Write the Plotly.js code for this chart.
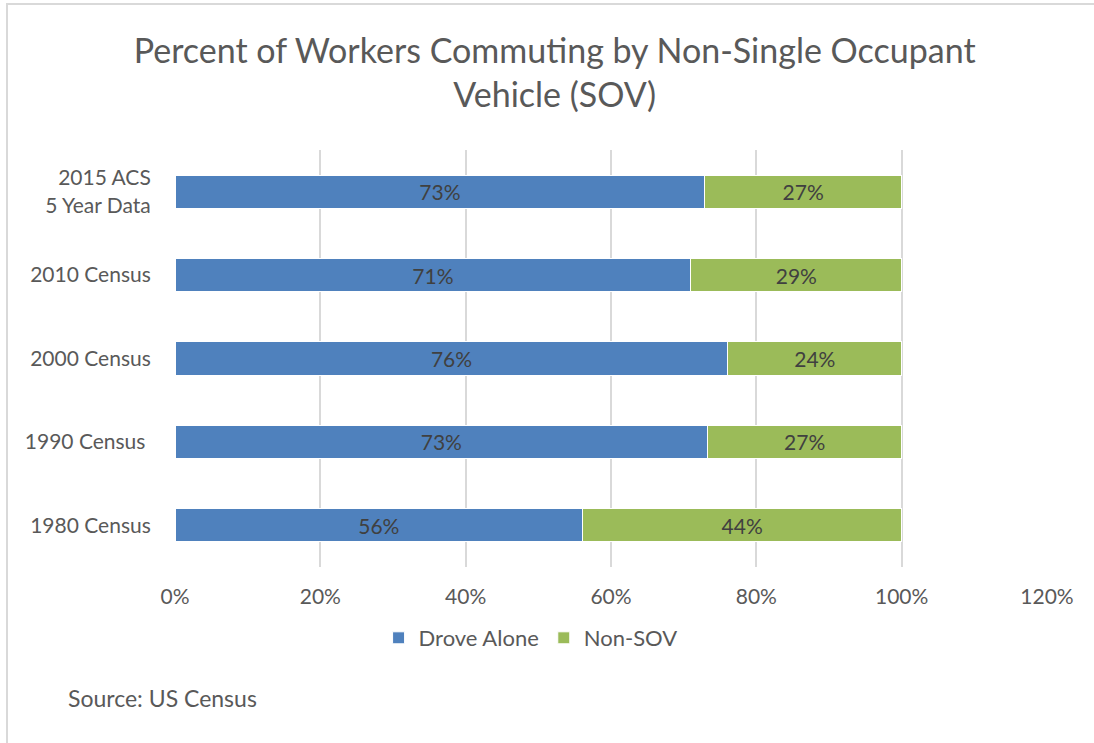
<!DOCTYPE html>
<html>
<head>
<meta charset="utf-8">
<script src="https://cdn.plot.ly/plotly-3.0.1.min.js"></script>
<style>
  html, body { margin: 0; padding: 0; background: #fff; overflow: hidden; }
  #chart { width: 1094px; height: 743px; }
  #frame { position: absolute; left: 6px; top: 3px; width: 1088px; height: 740px; border-top: 2px solid #d9d9d9; border-left: 2px solid #d9d9d9; pointer-events: none; box-sizing: border-box; }
</style>
</head>
<body>
<div id="chart"></div>
<div id="frame"></div>
<script>
const categories = ["1980 Census", "1990 Census\u00a0", "2000 Census", "2010 Census", "2015 ACS<br>5 Year Data"];
const droveAlone = [56.1, 73.3, 76.1, 71.0, 72.9];
const nonSOV = [43.9, 26.7, 23.9, 29.0, 27.1];
const xTickVals = [0, 20, 40, 60, 80, 100, 120];
const xTickText = ["0%", "20%", "40%", "60%", "80%", "100%", "120%"];

const FONT = "Lato, 'Open Sans', sans-serif";
const TXT = "#595959";

const traces = [
  {
    type: "bar", orientation: "h", name: "Drove Alone",
    y: categories, x: droveAlone,
    marker: { color: "#4F81BD", line: { color: "#ffffff", width: 1 } },
    text: droveAlone, texttemplate: "%{x:.0f}%", textposition: "inside", insidetextanchor: "middle",
    textfont: { family: FONT, size: 21, color: "#404040" },
    hoverinfo: "skip"
  },
  {
    type: "bar", orientation: "h", name: "Non-SOV",
    y: categories, x: nonSOV,
    marker: { color: "#9BBB59", line: { color: "#ffffff", width: 1 } },
    text: nonSOV, texttemplate: "%{x:.0f}%", textposition: "inside", insidetextanchor: "middle",
    textfont: { family: FONT, size: 21, color: "#404040" },
    hoverinfo: "skip"
  }
];

const layout = {
  width: 1094, height: 743,
  paper_bgcolor: "#ffffff", plot_bgcolor: "#ffffff",
  font: { family: FONT, color: TXT, size: 21 },
  barmode: "stack", bargap: 0.6,
  margin: { l: 175, r: 47, t: 150, b: 176 },
  title: {
    text: "Percent of Workers Commuting by Non-Single Occupant<br>Vehicle (SOV)",
    font: { family: FONT, size: 34, color: TXT },
    x: 0.507, xref: "container", xanchor: "center",
    y: 1 - 63 / 743, yref: "container", yanchor: "middle"
  },
  xaxis: {
    range: [0, 120], tickvals: xTickVals, ticktext: xTickText,
    showgrid: true, gridcolor: "#d9d9d9", gridwidth: 2,
    zeroline: false, showline: false,
    ticks: "outside", ticklen: 11, tickcolor: "rgba(0,0,0,0)",
    tickfont: { family: FONT, size: 21, color: TXT },
    fixedrange: true
  },
  yaxis: {
    type: "category", range: [-0.5, 4.5],
    showgrid: false, zeroline: false, showline: false,
    ticks: "outside", ticklen: 19, tickcolor: "rgba(0,0,0,0)",
    tickfont: { family: FONT, size: 21, color: TXT },
    fixedrange: true
  },
  showlegend: true,
  legend: {
    orientation: "h", xref: "container", yref: "container",
    x: 0.485, xanchor: "center", y: 1 - 638 / 743, yanchor: "middle",
    font: { family: FONT, size: 22, color: TXT },
    traceorder: "normal", itemwidth: 30
  },
  annotations: [
    {
      text: "Source: US Census", xref: "paper", yref: "paper",
      x: (66 - 175) / 872, xanchor: "left",
      y: -(698 - 567) / 417, yanchor: "middle",
      showarrow: false, font: { family: FONT, size: 23, color: TXT }
    }
  ]
};

Plotly.newPlot("chart", traces, layout, { displayModeBar: false, staticPlot: true });
</script>
</body>
</html>
